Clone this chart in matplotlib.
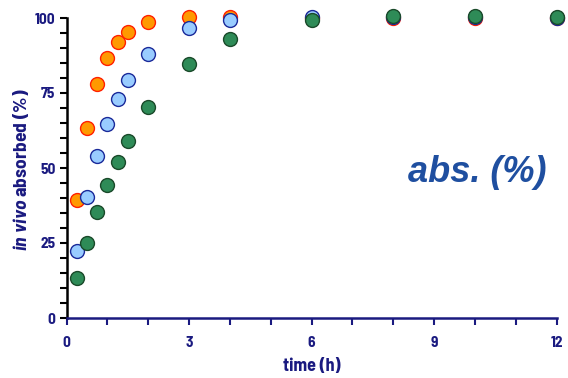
import matplotlib
matplotlib.use("Agg")
import matplotlib.pyplot as plt
from matplotlib.ticker import MultipleLocator
from matplotlib import font_manager

names = {f.name for f in font_manager.fontManager.ttflist}
fam = 'Barlow Semi Condensed' if 'Barlow Semi Condensed' in names else 'Liberation Sans'
plt.rcParams['font.family'] = [fam, 'DejaVu Sans']
plt.rcParams['mathtext.fontset'] = 'custom'
plt.rcParams['mathtext.it'] = fam + ':italic:bold'
plt.rcParams['mathtext.rm'] = fam + ':bold'

time = [0.25, 0.5, 0.75, 1, 1.25, 1.5, 2, 3, 4, 6, 8, 10, 12]
orange = [39.3, 63.3, 78.0, 86.7, 92.0, 95.3, 98.7, 100.2, 100.5, 100.0, 100.0, 100.0, 100.0]
blue = [22.4, 40.2, 54.0, 64.7, 73.0, 79.3, 88.0, 96.6, 99.3, 100.2, 100.2, 100.3, 100.0]
green = [13.2, 25.0, 35.3, 44.3, 52.1, 59.0, 70.2, 84.8, 92.9, 99.3, 100.7, 100.7, 100.2]

navy = '#1a1a80'
fig = plt.figure(figsize=(5.68, 3.78), dpi=100)
ax = fig.add_axes([66.5/568, 1-318/378, 490/568, 300/378])

ms = 10
ax.plot(time, orange, 'o', ms=ms, mfc='#ff9900', mec='#ff2000', mew=1.0, clip_on=False, zorder=3)
ax.plot(time, blue, 'o', ms=ms, mfc='#99ccff', mec='#1a2a9a', mew=1.0, clip_on=False, zorder=4)
ax.plot(time, green, 'o', ms=ms, mfc='#2e8b57', mec='#1a4a2a', mew=1.0, clip_on=False, zorder=5)

ax.set_xlim(0, 12)
ax.set_ylim(0, 100)
ax.xaxis.set_major_locator(MultipleLocator(3))
ax.xaxis.set_minor_locator(MultipleLocator(1))
ax.yaxis.set_major_locator(MultipleLocator(25))
ax.yaxis.set_minor_locator(MultipleLocator(5))

for s in ['top', 'right']:
    ax.spines[s].set_visible(False)
ax.spines['left'].set_color('black')
ax.spines['left'].set_linewidth(1.8)
ax.spines['bottom'].set_color(navy)
ax.spines['bottom'].set_linewidth(1.8)

ax.tick_params(axis='y', which='both', direction='out', length=5, width=1.5, color='black',
               labelcolor=navy, labelsize=11, pad=3)
ax.tick_params(axis='x', which='both', direction='out', length=5, width=1.5, color=navy,
               labelcolor=navy, labelsize=11, pad=8)
for lab in ax.get_xticklabels() + ax.get_yticklabels():
    lab.set_fontweight('bold')

ax.set_xlabel('time (h)', color=navy, fontsize=13, fontweight='bold', labelpad=6)
ax.set_ylabel(r'$\mathit{in\ vivo}$ absorbed (%)', color=navy, fontsize=14, fontweight='bold')
ax.yaxis.set_label_coords(21/568, 1-170/378, transform=fig.transFigure)
ax.yaxis.label.set_va('center')

ax.text(477/568, 1-172/378, 'abs. (%)', transform=fig.transFigure, ha='center', va='center',
        fontsize=26, fontweight='bold', style='italic', color='#1f4fa0', family='Liberation Sans')

fig.savefig('out.png', dpi=100)
